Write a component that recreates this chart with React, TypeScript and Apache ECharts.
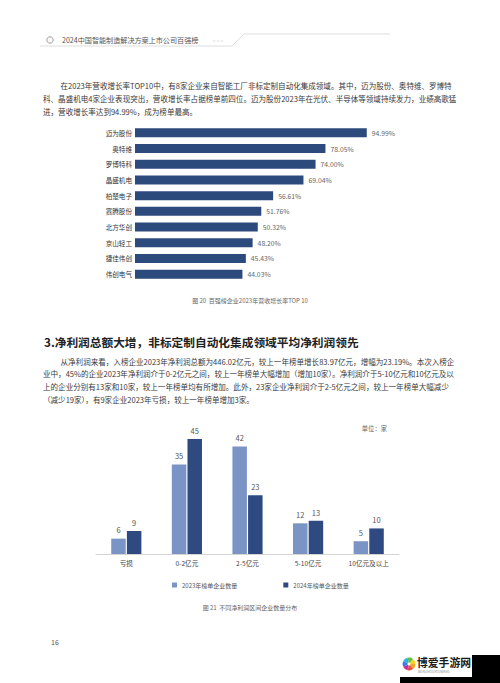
import React, { useEffect, useRef } from 'react';
import * as echarts from 'echarts';

const growthCompanies = ['迈为股份', '奥特维', '罗博特科', '晶盛机电', '柏楚电子', '赛腾股份', '北方华创', '京山轻工', '捷佳伟创', '伟创电气'];
const growthRates = [94.99, 78.05, 74.0, 69.04, 56.61, 51.76, 50.32, 48.2, 45.43, 44.03];

const profitRanges = ['亏损', '0-2亿元', '2-5亿元', '5-10亿元', '10亿元及以上'];
const count2023 = [6, 35, 42, 12, 5];
const count2024 = [9, 45, 23, 13, 10];
const legendNames = ['2023年榜单企业数量', '2024年榜单企业数量'];

const headerTitle = '2024中国智能制造解决方案上市公司百强榜';
const para1 = [
  '在2023年营收增长率TOP10中，有8家企业来自智能工厂非标定制自动化集成领域。其中，迈为股份、奥特维、罗博特',
  '科、晶盛机电4家企业表现突出，营收增长率占据榜单前四位。迈为股份2023年在光伏、半导体等领域持续发力，业绩高歌猛',
  '进，营收增长率达到94.99%，成为榜单最高。',
];
const caption1 = '图 20  百强榜企业2023年营收增长率TOP 10';
const heading2 = '3.净利润总额大增，非标定制自动化集成领域平均净利润领先';
const para2 = [
  '从净利润来看，入榜企业2023年净利润总额为446.02亿元，较上一年榜单增长83.97亿元，增幅为23.19%。本次入榜企',
  '业中，45%的企业2023年净利润介于0-2亿元之间，较上一年榜单大幅增加（增加10家）。净利润介于5-10亿元和10亿元及以',
  '上的企业分别有13家和10家，较上一年榜单均有所增加。此外，23家企业净利润介于2-5亿元之间，较上一年榜单大幅减少',
  '（减少19家），有9家企业2023年亏损，较上一年榜单增加3家。',
];
const caption2 = '图 21  不同净利润区间企业数量分布';
const unitText = '单位：家';
const pageNo = '16';

const FONT = '"Noto Sans CJK SC", "Noto Sans", sans-serif';

export default function App() {
  const ref = useRef<HTMLDivElement>(null);
  useEffect(() => {
    if (!ref.current) return;
    const chart = echarts.init(ref.current, undefined, { renderer: 'svg' });

    const textEl = (text: string, x: number, y: number, size: number, fill: string, extra: any = {}) => ({
      type: 'text',
      x,
      y,
      silent: true,
      style: { text, fontSize: size, fill, fontFamily: FONT, verticalAlign: 'middle', align: 'left', ...extra },
    });

    const graphics: any[] = [];
    // header
    graphics.push({
      type: 'circle', shape: { cx: 50, cy: 40, r: 3.2 },
      style: { fill: 'none', stroke: '#9a9a9a', lineWidth: 1 },
    });
    graphics.push({
      type: 'polyline', shape: { points: [[40, 46], [232, 46], [244, 34], [390, 34]] },
      style: { fill: 'none', stroke: '#d6d6d6', lineWidth: 0.8 },
    });
    graphics.push(textEl(headerTitle, 62, 40, 7.1, '#555'));
    graphics.push(textEl('> > >', 213, 40, 5, '#cfcfcf'));

    // paragraph 1
    para1.forEach((line, i) => {
      graphics.push(textEl(line, i === 0 ? 60.5 : 43, 85 + i * 13.4, 7.55, '#3a3a3a'));
    });
    graphics.push(textEl(caption1, 250, 300, 6, '#666', { align: 'center' }));

    // heading
    graphics.push(textEl(heading2, 44, 341, 11.7, '#222', { fontWeight: 'bold' }));
    para2.forEach((line, i) => {
      graphics.push(textEl(line, i === 0 ? 60.5 : 43, 361 + i * 12.7, 7.55, '#3a3a3a'));
    });

    graphics.push(textEl(unitText, 387, 428, 6.3, '#666', { align: 'right' }));
    graphics.push(textEl(caption2, 250, 607, 6, '#666', { align: 'center' }));
    graphics.push(textEl(pageNo, 51, 642, 7, '#555'));

    // watermark logo bottom-right
    graphics.push({ type: 'rect', shape: { x: 400, y: 655, width: 100, height: 28 }, style: { fill: '#000' } });
    graphics.push({ type: 'rect', shape: { x: 400, y: 655, width: 72, height: 22 }, style: { fill: '#fff' } });
    const petals = ['#f5a623', '#e94e3c', '#c2309a', '#3b7ddd', '#2bb3e0', '#5cc04c', '#f7d21e'];
    petals.forEach((c, i) => {
      const a0 = (i / petals.length) * Math.PI * 2;
      graphics.push({
        type: 'sector',
        shape: { cx: 409, cy: 664, r: 6.5, r0: 1.5, startAngle: a0, endAngle: a0 + (Math.PI * 2) / petals.length },
        style: { fill: c },
      });
    });
    graphics.push(textEl('博爱手游网', 417, 662, 10.8, '#1a1a1a', { fontWeight: 'bold' }));
    graphics.push(textEl('BOAISHOUYOUWANG', 418, 671.5, 3.2, '#888'));

    const option: any = {
      animation: false,
      backgroundColor: '#fff',
      textStyle: { fontFamily: FONT },
      graphic: graphics,
      legend: {
        data: legendNames,
        top: 577,
        left: 167,
        icon: 'rect',
        itemWidth: 5,
        itemHeight: 5,
        itemGap: 46,
        textStyle: { fontSize: 6, color: '#555', fontFamily: FONT },
      },
      grid: [
        { left: 135, top: 125, width: 244, height: 157 },
        { left: 96, top: 421, width: 303, height: 133 },
      ],
      xAxis: [
        { gridIndex: 0, type: 'value', min: 0, max: 100, show: false },
        {
          gridIndex: 1,
          type: 'category',
          data: profitRanges,
          axisLine: { lineStyle: { color: '#d4d4d4', width: 1 } },
          axisTick: { show: false },
          axisLabel: { fontSize: 6.6, color: '#444', margin: 6, fontFamily: FONT },
        },
      ],
      yAxis: [
        {
          gridIndex: 0,
          type: 'category',
          data: growthCompanies,
          inverse: true,
          axisLine: { show: false },
          axisTick: { show: false },
          axisLabel: { fontSize: 6.6, color: '#333', margin: 3, fontFamily: FONT },
        },
        { gridIndex: 1, type: 'value', min: 0, max: 52, show: false },
      ],
      series: [
        {
          type: 'bar',
          xAxisIndex: 0,
          yAxisIndex: 0,
          data: growthRates,
          barWidth: 9,
          itemStyle: { color: '#2d4a7d' },
          label: {
            show: true,
            position: 'right',
            distance: 5,
            formatter: (p: any) => p.value.toFixed(2) + '%',
            fontSize: 6.8,
            color: '#666',
            fontFamily: FONT,
          },
        },
        {
          type: 'bar',
          name: legendNames[0],
          xAxisIndex: 1,
          yAxisIndex: 1,
          data: count2023,
          barWidth: 14.5,
          barGap: '8%',
          itemStyle: { color: '#7b94c6' },
          label: { show: true, position: 'top', distance: 5, fontSize: 7.5, color: '#555', fontFamily: FONT },
        },
        {
          type: 'bar',
          name: legendNames[1],
          xAxisIndex: 1,
          yAxisIndex: 1,
          data: count2024,
          barWidth: 14.5,
          barGap: '8%',
          itemStyle: { color: '#2e4a80' },
          label: { show: true, position: 'top', distance: 5, fontSize: 7.5, color: '#555', fontFamily: FONT },
        },
      ],
    };
    chart.setOption(option);
    return () => chart.dispose();
  }, []);

  return (
    <div
      ref={ref}
      style={{ position: 'absolute', left: 0, top: 0, width: 500, height: 683, background: '#fff' }}
    />
  );
}
